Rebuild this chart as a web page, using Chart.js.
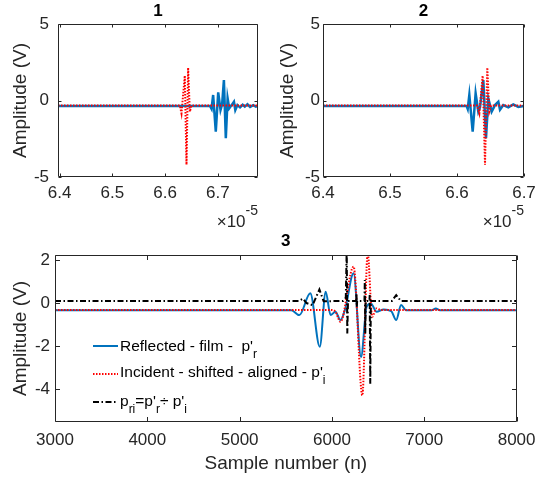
<!DOCTYPE html>
<html lang="en">
<head>
    <meta charset="UTF-8">
    <title>Reflected / incident pulses</title>
    <style>
        body {
            margin: 0;
            padding: 0;
            background: #fff;
            font-family: "Liberation Sans", Arial, sans-serif;
        }
        #wrap {
            position: relative;
            width: 544px;
            height: 484px;
            overflow: hidden;
        }
        canvas {
            position: absolute;
        }
        #c1 { left: 0; top: 0; }
        #c2 { left: 272px; top: 0; }
        #c3 { left: 0; top: 230px; }
        .expo {
            position: absolute;
            top: 212px;
            font-size: 17px;
            line-height: 20px;
            color: #262626;
            white-space: nowrap;
        }
        .expo span {
            position: relative;
            top: -12px;
            font-size: 14px;
        }
        .leg {
            position: absolute;
            left: 120px;
            font-size: 15.5px;
            line-height: 18px;
            color: #000;
            white-space: pre;
        }
        .leg .sb {
            position: relative;
            top: 7px;
            font-size: 12px;
        }
        .legline {
            position: absolute;
            left: 93px;
        }
    </style>
</head>
<body>
<div id="wrap">
    <canvas id="c1" width="272" height="230"></canvas>
    <canvas id="c2" width="272" height="230"></canvas>
    <canvas id="c3" width="544" height="254"></canvas>

    <div class="expo" style="right: 286px;">×10<span>-5</span></div>
    <div class="expo" style="right: 20px;">×10<span>-5</span></div>

    <svg class="legline" style="top: 341px;" width="25" height="10"><line x1="0" y1="5" x2="25" y2="5" stroke="#0072BD" stroke-width="2"/></svg>
    <svg class="legline" style="top: 369px;" width="25" height="10"><line x1="0" y1="5" x2="25" y2="5" stroke="#FF0000" stroke-width="2" stroke-dasharray="1.5 1.5"/></svg>
    <svg class="legline" style="top: 397px;" width="25" height="10"><line x1="0" y1="5" x2="25" y2="5" stroke="#000" stroke-width="2" stroke-dasharray="6 2.5 1.5 2.5"/></svg>
    <div class="leg" style="top: 337px;">Reflected - film -  p'<span class="sb">r</span></div>
    <div class="leg" style="top: 363px;">Incident - shifted - aligned - p'<span class="sb">i</span></div>
    <div class="leg" style="top: 392px;">p<span class="sb">ri</span>=p'<span class="sb">r</span>÷ p'<span class="sb">i</span></div>
</div>

<script src="https://cdn.jsdelivr.net/npm/chart.js"></script>
<script>
    // plot 1 - time in units of 1e-5 s
    const t1Ref = [6.397, 6.685, 6.688, 6.691, 6.696, 6.7006, 6.705, 6.708, 6.7114, 6.715, 6.7184, 6.7215, 6.726, 6.7304, 6.733, 6.737, 6.742, 6.747, 6.751, 6.756, 6.761, 6.767, 6.772, 6.776];
    const a1Ref = [-0.36, -0.36, -0.55, 0.36, -2.04, 0.53, -0.62, -0.25, 1.34, -2.47, 0.14, -0.51, -0.30, -0.08, -0.62, -0.30, -0.45, -0.28, -0.40, -0.25, -0.42, -0.30, -0.40, -0.36];
    const t1Inc = [6.397, 6.628, 6.631, 6.6373, 6.6405, 6.6436, 6.6468, 6.650, 6.776];
    const a1Inc = [-0.33, -0.33, -0.84, 1.62, -4.20, 2.14, -0.73, -0.33, -0.33];

    // plot 2
    const t2Ref = [6.4, 6.6144, 6.616, 6.6184, 6.6234, 6.6278, 6.6318, 6.6343, 6.6393, 6.6433, 6.6467, 6.6517, 6.6567, 6.6617, 6.6642, 6.6691, 6.6766, 6.684, 6.6915, 6.7];
    const a2Ref = [-0.36, -0.36, -0.55, 0.36, -2.04, 0.47, -0.73, -0.45, 1.34, -2.47, 0.14, -0.73, -0.30, -0.08, -0.60, -0.30, -0.45, -0.25, -0.42, -0.36];
    const t2Inc = [6.4, 6.630, 6.6333, 6.6383, 6.6418, 6.6452, 6.6482, 6.651, 6.7];
    const a2Inc = [-0.33, -0.33, -0.84, 1.62, -4.20, 2.14, -0.73, -0.33, -0.33];

    const tTicks1 = [6.4, 6.5, 6.6, 6.7];
    const tTicks2 = [6.4, 6.5, 6.6, 6.7];
    const tLabels = ['6.4', '6.5', '6.6', '6.7'];
    const vTicksTop = [-5, 0, 5];
    const vLabelsTop = ['-5', '0', '5'];

    // plot 3 - sample number
    const nRef = [3000, 5560, 5647, 5765, 5868, 5932, 5985, 6038, 6092, 6145, 6234, 6315, 6376, 6422, 6483, 6560, 6643, 6696, 6749, 6800, 7080, 7125, 7170, 8000];
    const aRef = [-0.33, -0.33, -0.56, 0.45, -2.03, 0.53, -0.56, -0.40, -0.79, -0.25, 1.38, -2.50, -0.17, -0.02, -0.40, -0.30, -0.38, -0.79, -0.09, -0.33, -0.33, -0.25, -0.33, -0.33];
    const nInc = [3000, 6000, 6040, 6092, 6234, 6329, 6387, 6436, 6480, 6530, 8000];
    const aInc = [-0.32, -0.32, -0.42, -0.87, 1.69, -4.28, 2.30, -0.64, -0.25, -0.32, -0.32];
    const nRatio = [3000, 5640, 5685, 5725, 5790, 5864, 5910, 6120, 6150, 6160, 6166, 6174, 6262, 6265, 6269, 6273, 6352, 6356, 6361, 6366, 6406, 6409, 6415, 6421, 6650, 6696, 6745, 8000];
    const aRatio = [0.10, 0.10, 0.20, 0.00, -0.10, 0.63, 0.08, 0.10, 0.25, 2.60, -1.41, 0.10, 0.10, 0.45, -0.17, 0.10, 0.10, 1.07, -1.41, 0.10, 0.10, 0.37, -3.74, 0.10, 0.10, 0.37, 0.10, 0.10];

    const nTicks = [3000, 4000, 5000, 6000, 7000, 8000];
    const nLabels = ['3000', '4000', '5000', '6000', '7000', '8000'];
    const vTicks3 = [-4, -2, 0, 2];
    const vLabels3 = ['-4', '-2', '0', '2'];

    const AXIS = '#262626';
    Chart.defaults.font.family = '"Liberation Sans", Arial, sans-serif';
    Chart.defaults.color = AXIS;

    function toPoints(xs, ys) {
        return xs.map((v, i) => ({ x: v, y: ys[i] }));
    }

    // matlab style box with inward ticks on all four sides
    const axesBox = {
        id: 'axesBox',
        afterDatasetsDraw(chart, args, opts) {
            const { ctx, chartArea: a, scales: { x, y } } = chart;
            const len = opts.tickLen || 4;
            const L = Math.round(a.left) + 0.5, R = Math.round(a.right) - 0.5;
            const T = Math.round(a.top) + 0.5, B = Math.round(a.bottom) - 0.5;
            ctx.save();
            ctx.strokeStyle = AXIS;
            ctx.lineWidth = 1;
            ctx.beginPath();
            ctx.rect(L, T, R - L, B - T);
            x.ticks.forEach(t => {
                const px = Math.round(x.getPixelForValue(t.value)) + 0.5;
                ctx.moveTo(px, B); ctx.lineTo(px, B - len);
                ctx.moveTo(px, T); ctx.lineTo(px, T + len);
            });
            y.ticks.forEach(t => {
                const py = Math.round(y.getPixelForValue(t.value)) + 0.5;
                ctx.moveTo(L, py); ctx.lineTo(L + len, py);
                ctx.moveTo(R, py); ctx.lineTo(R - len, py);
            });
            ctx.stroke();
            ctx.restore();
        }
    };

    function refSet(xs, ys, w, smooth) {
        return { data: toPoints(xs, ys), borderColor: '#0072BD', borderWidth: w, pointRadius: 0,
                 cubicInterpolationMode: smooth ? 'monotone' : 'default', tension: 0, order: 3 };
    }
    function incSet(xs, ys, smooth) {
        return { data: toPoints(xs, ys), borderColor: '#FF0000', borderWidth: 2, borderDash: [1.5, 1.5], pointRadius: 0,
                 cubicInterpolationMode: smooth ? 'monotone' : 'default', tension: 0, order: 2 };
    }
    function ratioSet(xs, ys) {
        return { data: toPoints(xs, ys), borderColor: '#000000', borderWidth: 2, borderDash: [6, 2.5, 1.5, 2.5], pointRadius: 0,
                 tension: 0, order: 1 };
    }

    function makeChart(id, c) {
        return new Chart(document.getElementById(id), {
            type: 'line',
            data: { datasets: c.datasets },
            options: {
                responsive: false,
                animation: false,
                events: [],
                layout: { padding: { left: 0, right: c.padRight, top: 0, bottom: 0 } },
                plugins: {
                    legend: { display: false },
                    tooltip: { enabled: false },
                    title: {
                        display: true, text: c.title, fullSize: false, color: '#000',
                        font: { size: 17, weight: 'bold', lineHeight: 1.2 },
                        padding: c.titlePad
                    },
                    axesBox: { tickLen: c.tickLen }
                },
                scales: {
                    x: {
                        type: 'linear', min: c.xMin, max: c.xMax,
                        grid: { display: false, drawTicks: false },
                        border: { display: false },
                        afterBuildTicks: s => { s.ticks = c.xTicks.map(v => ({ value: v })); },
                        afterFit: s => { s.height = c.xHeight; },
                        ticks: {
                            autoSkip: false, maxRotation: 0, padding: c.xPad, color: AXIS,
                            font: { size: 17 },
                            callback: (v, i) => c.xLabels[i]
                        },
                        title: c.xTitle ? {
                            display: true, text: c.xTitle, color: AXIS,
                            font: { size: 19, lineHeight: 1.2 },
                            padding: { top: 0, bottom: 9.3 }
                        } : { display: false }
                    },
                    y: {
                        type: 'linear', min: c.yMin, max: c.yMax,
                        grid: { display: false, drawTicks: false },
                        border: { display: false },
                        afterBuildTicks: s => { s.ticks = c.yTicks.map(v => ({ value: v })); },
                        afterFit: s => { s.width = c.yWidth; },
                        ticks: {
                            autoSkip: false, padding: c.yPad, color: AXIS,
                            font: { size: 17 },
                            callback: (v, i) => c.yLabels[i]
                        },
                        title: {
                            display: true, text: 'Amplitude (V)', color: AXIS,
                            font: { size: 19, lineHeight: 1.2 },
                            padding: { top: c.yTitlePad, bottom: 0 }
                        }
                    }
                }
            },
            plugins: [axesBox]
        });
    }

    makeChart('c1', {
        title: '1',
        datasets: [refSet(t1Ref, a1Ref, 2.5, false), incSet(t1Inc, a1Inc, false)],
        xMin: 6.397, xMax: 6.776, xTicks: tTicks1, xLabels: tLabels,
        yMin: -5, yMax: 5, yTicks: vTicksTop, yLabels: vLabelsTop,
        padRight: 14, yWidth: 58, xHeight: 53, xPad: 6, yPad: 9, yTitlePad: 9.3,
        titlePad: { top: 1.1, bottom: 2.5 }, tickLen: 3
    });

    makeChart('c2', {
        title: '2',
        datasets: [refSet(t2Ref, a2Ref, 2.5, false), incSet(t2Inc, a2Inc, false)],
        xMin: 6.4, xMax: 6.7, xTicks: tTicks2, xLabels: tLabels,
        yMin: -5, yMax: 5, yTicks: vTicksTop, yLabels: vLabelsTop,
        padRight: 20, yWidth: 51, xHeight: 53, xPad: 6, yPad: 3, yTitlePad: 4.6,
        titlePad: { top: 1.1, bottom: 2.5 }, tickLen: 3
    });

    makeChart('c3', {
        title: '3',
        datasets: [refSet(nRef, aRef, 2, true), incSet(nInc, aInc, true), ratioSet(nRatio, aRatio)],
        xMin: 3000, xMax: 8000, xTicks: nTicks, xLabels: nLabels, xTitle: 'Sample number (n)',
        yMin: -5.52, yMax: 2.23, yTicks: vTicks3, yLabels: vLabels3,
        padRight: 20, yWidth: 55, xHeight: 62, xPad: 8.5, yPad: 5, yTitlePad: 9.3,
        titlePad: { top: 0.8, bottom: 3.8 }, tickLen: 4.5
    });
</script>
</body>
</html>
